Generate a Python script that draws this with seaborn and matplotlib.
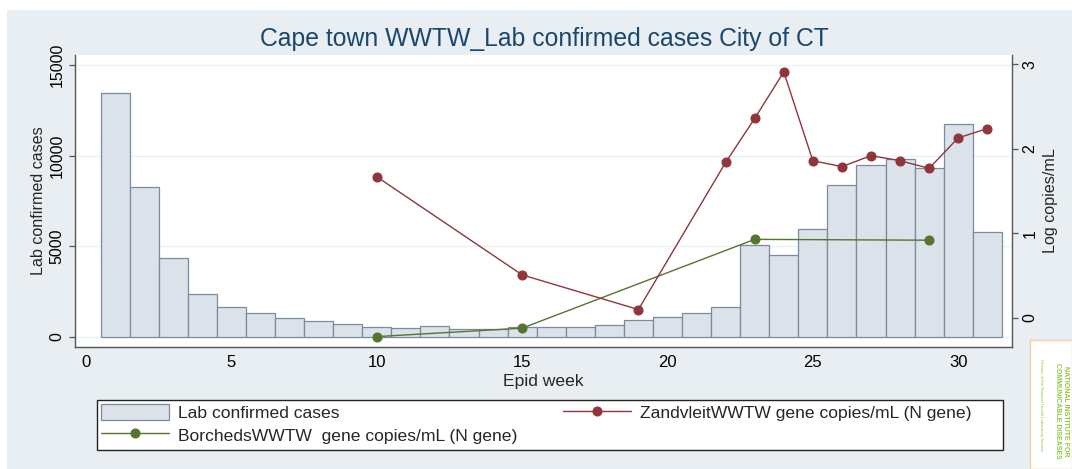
import numpy as np
import pandas as pd
import matplotlib
matplotlib.use('Agg')
import matplotlib.pyplot as plt
import seaborn as sns
from matplotlib.patches import Rectangle

# data
weeks = list(range(1, 32))
cases = [13450, 8300, 4350, 2400, 1650, 1320, 1060, 890, 700, 570,
         490, 620, 470, 430, 570, 530, 530, 680, 940, 1080,
         1340, 1670, 5080, 4550, 5980, 8400, 9500, 9830, 9300, 11760,
         5800]

zand_weeks = [10, 15, 19, 22, 23, 24, 25, 26, 27, 28, 29, 30, 31]
zand_log = [1.67, 0.51, 0.10, 1.84, 2.36, 2.91, 1.86, 1.79, 1.92, 1.86, 1.77, 2.13, 2.24]

borch_weeks = [10, 15, 23, 29]
borch_log = [-0.22, -0.12, 0.93, 0.92]

x_ticks = [0, 5, 10, 15, 20, 25, 30]
left_ticks = [0, 5000, 10000, 15000]
right_ticks = [0, 1, 2, 3]

sns.set_style('white')
plt.rcParams['font.family'] = ['Liberation Sans', 'DejaVu Sans']

bg = '#e8eef1'
navy = '#1a476f'
maroon = '#90353b'
green = '#55752f'
bar_fill = '#dbe2ea'
bar_edge = '#7a8ba0'
axis_col = '#555555'

fig = plt.figure(figsize=(10.72, 4.69), dpi=100)
fig.patch.set_facecolor('white')
# light background panel like the stata graph region
fig.patches.append(Rectangle((0.0065, 0.0), 0.9935, 0.979, transform=fig.transFigure,
                             facecolor=bg, edgecolor='none', zorder=-10))

ax = fig.add_axes([0.070, 0.2601, 0.874, 0.6226])
ax.set_facecolor('white')

df = pd.DataFrame({'week': weeks, 'cases': cases})
sns.barplot(data=df, x='week', y='cases', native_scale=True, width=1, ax=ax,
            color=bar_fill, saturation=1, edgecolor=bar_edge, linewidth=0.9,
            errorbar=None, label='Lab confirmed cases')

ax2 = ax.twinx()
dz = pd.DataFrame({'week': zand_weeks, 'val': zand_log})
db = pd.DataFrame({'week': borch_weeks, 'val': borch_log})
sns.lineplot(data=db, x='week', y='val', ax=ax2, color=green, marker='o', markersize=6.5,
             markeredgecolor=green, linewidth=1.0, label='BorchedsWWTW  gene copies/mL (N gene)')
sns.lineplot(data=dz, x='week', y='val', ax=ax2, color=maroon, marker='o', markersize=6.5,
             markeredgecolor=maroon, linewidth=1.0, label='ZandvleitWWTW gene copies/mL (N gene)')

ax.set_xlim(-0.38, 31.85)
ax.set_ylim(-550, 15550)
ax2.set_ylim(-0.343, 3.11)

ax.set_xticks(x_ticks)
ax.set_xticklabels([str(t) for t in x_ticks])
ax.set_yticks(left_ticks)
ax.set_yticklabels([str(t) for t in left_ticks])
ax2.set_yticks(right_ticks)
ax2.set_yticklabels([str(t) for t in right_ticks])

ax.yaxis.grid(True, color='#eaf2f3', linewidth=1.0)
ax.set_axisbelow(True)

for s in ['top', 'right']:
    ax.spines[s].set_visible(False)
for s in ['left', 'bottom']:
    ax.spines[s].set_color(axis_col)
    ax.spines[s].set_linewidth(1.0)
for s in ['top', 'left', 'bottom']:
    ax2.spines[s].set_visible(False)
ax2.spines['right'].set_color(axis_col)
ax2.spines['right'].set_linewidth(1.0)

ax.tick_params(axis='both', direction='out', length=4.5, width=0.9, color=axis_col,
               labelsize=11.5, labelcolor='black', pad=3)
ax.tick_params(axis='x', labelsize=12, pad=1.5)
ax.tick_params(axis='y', labelrotation=90)
ax2.tick_params(axis='y', direction='out', length=4.5, width=0.9, color=axis_col,
                labelsize=11.5, labelcolor='black', labelrotation=90, pad=3)
for lab in ax.get_yticklabels():
    lab.set_va('center')
for lab in ax2.get_yticklabels():
    lab.set_va('center')

ax.set_xlabel('Epid week', fontsize=12.6)
ax.xaxis.set_label_coords(0.4995, -0.092)
ax.set_ylabel('Lab confirmed cases', fontsize=11.6)
ax.yaxis.set_label_coords(-0.031, 0.503)
ax2.set_ylabel('Log copies/mL', fontsize=11.6, rotation=90)
ax2.yaxis.set_label_coords(1.033, 0.503)

fig.text(0.508, 0.917, 'Cape town WWTW_Lab confirmed cases City of CT', color=navy,
         fontsize=17.8, ha='center', va='center')

# legend in a box under the plot
h1, l1 = ax.get_legend_handles_labels()
h2, l2 = ax2.get_legend_handles_labels()
for a in (ax, ax2):
    if a.get_legend() is not None:
        a.get_legend().remove()
handles = h1 + h2
labels = l1 + l2
fig.patches.append(Rectangle((0.0905, 0.0405), 0.8451, 0.1066, transform=fig.transFigure,
                             facecolor='white', edgecolor='#222222', linewidth=1.0, zorder=1))
leg = fig.legend(handles, labels, ncol=2, loc='upper left',
                 bbox_to_anchor=(0.0905, 0.147), bbox_transform=fig.transFigure,
                 fontsize=12.6, frameon=False,
                 handlelength=3.9, handleheight=1.1, handletextpad=0.5,
                 columnspacing=2.6, labelspacing=0.3, borderpad=0.2, borderaxespad=0)
leg.set_zorder(3)

# NICD logo box
fig.patches.append(Rectangle((0.961, 0.0), 0.039, 0.275, transform=fig.transFigure,
                             facecolor='white', edgecolor='#f6cfa6', linewidth=1.0, zorder=5))
fig.text(0.990, 0.124, 'NATIONAL INSTITUTE FOR\nCOMMUNICABLE DISEASES', color='#8dc63f',
         fontsize=5.0, fontweight='bold', rotation=-90, ha='center', va='center',
         linespacing=1.1, zorder=6)
fig.text(0.971, 0.136, 'Division of the National Health Laboratory Service', color='#8dc63f',
         fontsize=3.1, rotation=-90, ha='center', va='center', zorder=6)

fig.savefig('out.png', dpi=100)
